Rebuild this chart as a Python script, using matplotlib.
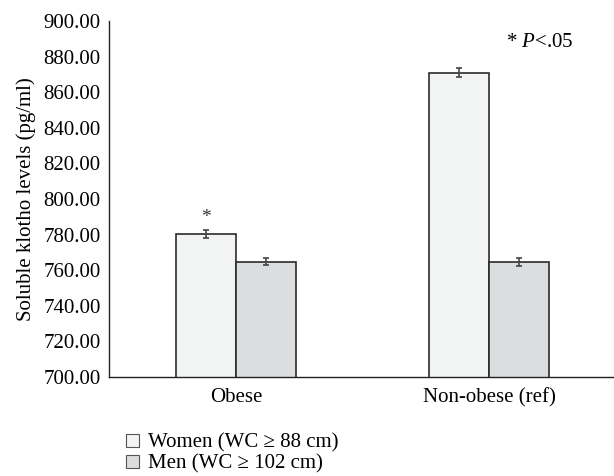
import matplotlib
matplotlib.use("Agg")
import matplotlib.pyplot as plt
from matplotlib.patches import Patch

OUT_FILE = "out.png"

categories = ["Obese", "Non-obese (ref)"]
series_names = ["Women (WC \u2265 88 cm)", "Men (WC \u2265 102 cm)"]
women = [780.5, 871.0]
men = [764.8, 764.8]
women_err = [2.2, 2.5]
men_err = [2.0, 2.3]
yticks = [700, 720, 740, 760, 780, 800, 820, 840, 860, 880, 900]


def main():
    plt.rcParams["font.family"] = ["Liberation Serif", "DejaVu Serif"]
    plt.rcParams["mathtext.fontset"] = "custom"
    plt.rcParams["mathtext.rm"] = "Liberation Serif"
    plt.rcParams["mathtext.it"] = "Liberation Serif:italic"
    fs = 15
    fig = plt.figure(figsize=(6.14, 4.76), dpi=100)
    ax = fig.add_axes([0.1775, 0.208, 0.8225, 0.748])

    x = list(range(len(categories)))
    w = 0.237
    edge = "#2b2b2b"
    ax.bar([i - w / 2 for i in x], women, w, color="#f2f3f3", edgecolor=edge, linewidth=1.2,
           yerr=women_err, error_kw=dict(ecolor="#444444", elinewidth=1.2, capsize=2.5, capthick=1.2))
    ax.bar([i + w / 2 for i in x], men, w, color="#dcdddf", edgecolor=edge, linewidth=1.2,
           yerr=men_err, error_kw=dict(ecolor="#444444", elinewidth=1.2, capsize=2.5, capthick=1.2))

    ax.text(x[0] - w / 2, women[0] + women_err[0] + 2, "*", ha="center", va="bottom", fontsize=fs - 1,
            color="#333333")
    ax.text(1.067, 888, r"* $\it{P}$<.05", ha="left", va="center", fontsize=fs)

    ax.set_xlim(-0.502, 1.494)
    ax.set_ylim(700, 900)
    ax.set_xticks(x)
    ax.set_xticklabels(categories, fontsize=fs)
    ax.set_yticks(yticks)
    ax.set_yticklabels([f"{v:.2f}" for v in yticks], fontsize=fs)
    ax.tick_params(length=0, pad=6)
    ax.tick_params(axis="x", pad=8)
    ax.set_ylabel("Soluble klotho levels (pg/ml)", fontsize=fs, labelpad=5)
    for side in ["top", "right"]:
        ax.spines[side].set_visible(False)
    for side in ["left", "bottom"]:
        ax.spines[side].set_linewidth(1.0)
        ax.spines[side].set_color("#222222")

    handles = [Patch(facecolor="#f2f3f3", edgecolor="#555555", linewidth=0.8),
               Patch(facecolor="#dcdddf", edgecolor="#555555", linewidth=0.8)]
    fig.legend(handles, series_names, loc="lower left", bbox_to_anchor=(0.175, -0.035), frameon=False,
               fontsize=fs, handlelength=0.6, handleheight=0.6, handletextpad=0.45, labelspacing=0.1)

    fig.savefig(OUT_FILE, dpi=100)


if __name__ == "__main__":
    main()
